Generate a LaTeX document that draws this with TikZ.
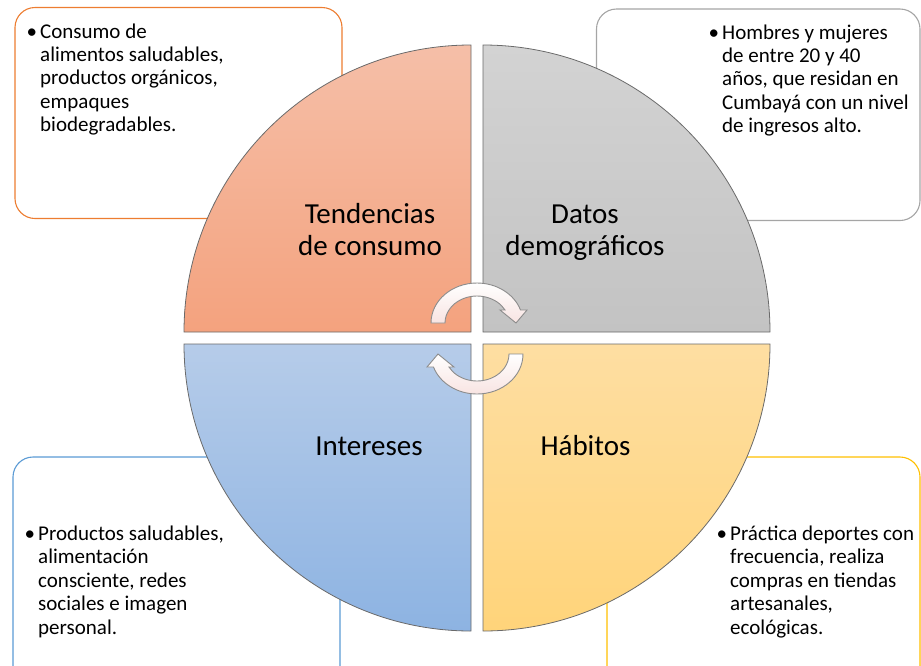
\documentclass[tikz,border=0pt]{standalone}
\usepackage{fontspec}
\setmainfont{Carlito}
\definecolor{boxorange}{HTML}{ED7D31}
\definecolor{boxgray}{HTML}{A5A5A5}
\definecolor{boxblue}{HTML}{5B9BD5}
\definecolor{boxyellow}{HTML}{FFC000}
\definecolor{tlA}{HTML}{F5BFA8}
\definecolor{tlB}{HTML}{F4A27E}
\definecolor{trA}{HTML}{D3D3D3}
\definecolor{trB}{HTML}{C3C3C3}
\definecolor{blA}{HTML}{B6CCE9}
\definecolor{blB}{HTML}{8DB3E2}
\definecolor{brA}{HTML}{FEDEA2}
\definecolor{brB}{HTML}{FFD47A}
\definecolor{arrowpink}{HTML}{F8E4E2}
\definecolor{quadline}{HTML}{6A6A6A}
\begin{document}
\begin{tikzpicture}[x=1pt,y=-1pt]
\tikzset{
  infobox/.style={line width=1.1pt, fill=white, rounded corners=20pt},
  quad/.style={draw=quadline, line width=0.8pt},
  cyclearrow/.style={draw=black!45, line width=0.9pt, top color=white, bottom color=arrowpink},
  boxtext/.style={anchor=base west, inner sep=0pt, font=\fontsize{21}{23.4}\selectfont},
  quadlabel/.style={anchor=base, inner sep=0pt, font=\fontsize{29}{32}\selectfont},
}
\useasboundingbox (0,0) rectangle (921,665);
\clip (0,0) rectangle (921,665);
% outer boxes
\draw[infobox, draw=boxorange] (15,7.5) rectangle (342,218.5);
\draw[infobox, draw=boxgray] (596.5,9) rectangle (920,220.5);
\draw[infobox, draw=boxblue] (13,457) rectangle (340,700);
\draw[infobox, draw=boxyellow] (607,457) rectangle (920,700);
% quadrants
\draw[quad, top color=tlA, bottom color=tlB] (184,332) arc[start angle=180, end angle=270, radius=287] -- (471,332) -- cycle;
\draw[quad, top color=trA, bottom color=trB] (483,45) arc[start angle=270, end angle=360, radius=287] -- (483,332) -- cycle;
\draw[quad, top color=brA, bottom color=brB] (770,344) arc[start angle=0, end angle=90, radius=287] -- (483,344) -- cycle;
\draw[quad, top color=blA, bottom color=blB] (471,631) arc[start angle=90, end angle=180, radius=287] -- (471,344) -- cycle;
% circular arrows
\path[cyclearrow] (431,323) arc[start angle=180, end angle=341.03, x radius=46, y radius=40]
  -- (527,310) -- (516,323) -- (500,310) -- (505.04,310)
  arc[start angle=331.2, end angle=180, x radius=32, y radius=27] -- cycle;
\begin{scope}[rotate around={180:(477,338.5)}]
\path[cyclearrow] (431,323) arc[start angle=180, end angle=341.03, x radius=46, y radius=40]
  -- (527,310) -- (516,323) -- (500,310) -- (505.04,310)
  arc[start angle=331.2, end angle=180, x radius=32, y radius=27] -- cycle;
\end{scope}
% quadrant labels
\node[quadlabel] (tend) at (370,223) {\vtop{\halign{\hfil#\hfil\cr Tendencias\cr de consumo\cr}}};
\node[quadlabel] (datos) at (585,223) {\vtop{\halign{\hfil#\hfil\cr Datos\cr demográficos\cr}}};
\node[quadlabel] (inter) at (369,455) {Intereses};
\node[quadlabel] (habit) at (585.5,455) {Hábitos};
% box texts
\node[boxtext] (tltext) at (40,38) {\vtop{\hbox{\llap{•\hskip3pt}Consumo de}\hbox{alimentos saludables,}\hbox{productos orgánicos,}\hbox{empaques}\hbox{biodegradables.}}};
\node[boxtext] (trtext) at (722,39) {\vtop{\hbox{\llap{•\hskip3pt}Hombres y mujeres}\hbox{de entre 20 y 40}\hbox{años, que residan en}\hbox{Cumbayá con un nivel}\hbox{de ingresos alto.}}};
\node[boxtext] (bltext) at (38,540.5) {\vtop{\hbox{\llap{•\hskip3pt}Productos saludables,}\hbox{alimentación}\hbox{consciente, redes}\hbox{sociales e imagen}\hbox{personal.}}};
\node[boxtext] (brtext) at (730,540.5) {\vtop{\hbox{\llap{•\hskip3pt}Práctica deportes con}\hbox{frecuencia, realiza}\hbox{compras en tiendas}\hbox{artesanales,}\hbox{ecológicas.}}};
\end{tikzpicture}
\end{document}
